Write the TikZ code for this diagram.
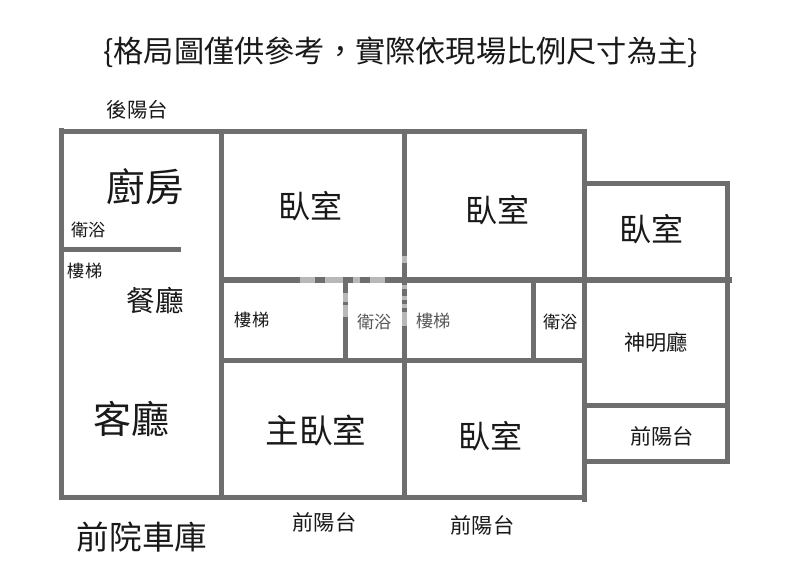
\documentclass[tikz,border=0pt]{standalone}
\usepackage{fontspec}
\setmainfont{Noto Sans CJK TC}
\definecolor{wallgray}{HTML}{6E6E6E}
\definecolor{marklight}{HTML}{B8B8B8}
\tikzset{
  x=1pt,y=-1pt,
  wall/.style={draw=wallgray,line width=5pt,line cap=butt},
  faded/.style={draw=marklight,line width=5pt,line cap=butt},
  lbl/.style={inner sep=0pt,text=black!90},
}
\newcommand{\fs}[1]{\fontsize{#1}{#1}\selectfont}
\begin{document}
\begin{tikzpicture}
\useasboundingbox (0,0) rectangle (800,577);
\fill[white] (0,0) rectangle (800,577);
% walls
\draw[wall] (61.5,128)--(61.5,500);
\draw[wall] (59,131.7)--(586.5,131.7);
\draw[wall] (221,132)--(221,498);
\draw[wall] (404.5,132)--(404.5,498);
\draw[wall] (584.5,129)--(584.5,502);
\draw[wall] (221,280)--(732,280);
\draw[wall] (61,249.5)--(181,249.5);
\draw[wall] (345,280)--(345,360);
\draw[wall] (533,280)--(533,360);
\draw[wall] (221,360)--(584,360);
\draw[wall] (584,184)--(728,184);
\draw[wall] (727.5,181)--(727.5,464);
\draw[wall] (586,405)--(727,405);
\draw[wall] (586,461)--(730,461);
\draw[wall] (59,497.5)--(586,497.5);
% faded stretches of wall under the watermark
\draw[faded] (300,280)--(315,280);
\draw[faded] (325,280)--(343,280);
\draw[faded] (353,280)--(360,280);
\draw[faded] (370,280)--(385,280);
\draw[faded] (345,293)--(345,302);
\draw[faded] (345,305)--(345,317);
\draw[faded] (404.5,256)--(404.5,263);
\draw[faded] (404.5,285)--(404.5,289);
\draw[faded] (404.5,296)--(404.5,300);
\draw[faded] (404.5,304)--(404.5,308);
\draw[faded] (404.5,312)--(404.5,326);
% labels
\node[lbl] (title) at (400.5,52) {\fs{30.2}\{格局圖僅供參考，實際依現場比例尺寸為主\}};
\node[lbl] (balc) at (137.5,110) {\fs{20.4}後陽台};
\node[lbl] (kitchen) at (145,187) {\fs{38.5}廚房};
\node[lbl] (bath1) at (88.5,230) {\fs{17.2}衛浴};
\node[lbl] (stair1) at (85,271) {\fs{17.2}樓梯};
\node[lbl] (dining) at (155,301) {\fs{28.6}餐廳};
\node[lbl] (living) at (131.5,419) {\fs{38}客廳};
\node[lbl] (garage) at (142,537) {\fs{32.6}前院車庫};
\node[lbl] (bed1) at (310,206) {\fs{32}臥室};
\node[lbl] (bed2) at (497,210) {\fs{32}臥室};
\node[lbl] (bed3) at (651,229) {\fs{32}臥室};
\node[lbl] (stair2) at (252,320) {\fs{17.2}樓梯};
\node[lbl,text=black!65] (bath2) at (374.5,322) {\fs{17.2}衛浴};
\node[lbl,text=black!65] (stair3) at (433.5,321) {\fs{17.2}樓梯};
\node[lbl] (bath3) at (560.5,322) {\fs{17.2}衛浴};
\node[lbl] (shrine) at (656,342) {\fs{21.2}神明廳};
\node[lbl] (balc1) at (662,436) {\fs{21.2}前陽台};
\node[lbl] (master) at (316,431) {\fs{33.6}主臥室};
\node[lbl] (bed4) at (490,436) {\fs{32}臥室};
\node[lbl] (balc2) at (324.5,522) {\fs{21.2}前陽台};
\node[lbl] (balc3) at (482.5,525) {\fs{21.2}前陽台};
\end{tikzpicture}
\end{document}
